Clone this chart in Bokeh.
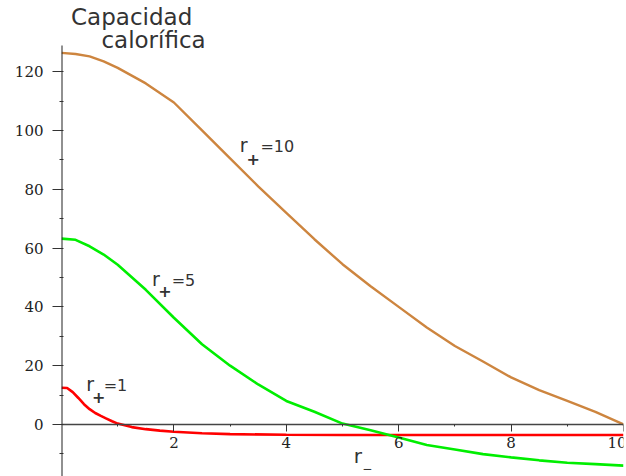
from bokeh.plotting import figure
from bokeh.models import Label, FixedTicker, Range1d
from bokeh.embed import file_html
from bokeh.resources import INLINE

# r_minus sample points and heat capacity for three values of r_plus
r_minus = [0, 0.25, 0.5, 0.75, 1, 1.5, 2, 2.5, 3, 3.5, 4, 4.5, 5,
           5.5, 6, 6.5, 7, 7.5, 8, 8.5, 9, 9.5, 10]
c_rp10 = [126.4, 126.0, 125.2, 123.5, 121.3, 116.0, 109.5, 100.0, 90.5, 81.0,
          72.0, 63.0, 54.5, 47.0, 40.0, 33.0, 26.7, 21.4, 16.0, 11.7, 8.0, 4.3, 0.0]
c_rp5 = [63.2, 62.8, 60.6, 57.8, 54.3, 45.8, 36.3, 27.3, 20.0, 13.6,
         8.0, 4.3, 0.3, -2.0, -4.4, -7.0, -8.5, -10.1, -11.2, -12.2, -13.0, -13.5, -14.0]

r_minus_1 = [0, 0.1, 0.2, 0.3, 0.4, 0.5, 0.6, 0.7, 0.8, 0.9, 1.0, 1.25, 1.5,
             1.75, 2, 2.5, 3, 4, 5, 6, 7, 8, 9, 10]
c_rp1 = [12.5, 12.4, 11.0, 9.0, 6.9, 5.2, 3.9, 2.9, 2.0, 1.1, 0.3, -0.9, -1.6,
         -2.1, -2.5, -3.0, -3.3, -3.5, -3.6, -3.6, -3.6, -3.6, -3.6, -3.6]

x_major = [2, 4, 6, 8, 10]
x_minor = [1, 3, 5, 7, 9]
y_major = [0, 20, 40, 60, 80, 100, 120]
y_minor = [-10, 10, 30, 50, 70, 90, 110]

title_lines = ["Capacidad", "calorífica"]

# vertical extent of the drawn C axis, and of the whole view
c_axis_lo, c_axis_hi = -17.7, 128.9
view_top = 144.2

p = figure(width=626, height=476, output_backend="svg", toolbar_location=None,
           x_range=Range1d(0, 10), y_range=Range1d(c_axis_lo, view_top),
           min_border_left=61, min_border_right=3, min_border_top=0,
           min_border_bottom=0)
p.outline_line_color = None
p.grid.visible = False
p.background_fill_color = "white"
p.border_fill_color = "white"

# curves
p.line(r_minus_1, c_rp1, line_color="#ff0000", line_width=2.6)
p.line(r_minus, c_rp5, line_color="#00ee00", line_width=2.6)
p.line(r_minus, c_rp10, line_color="#cd853f", line_width=2.4)

# horizontal axis crossing at zero
xa = p.xaxis[0]
xa.fixed_location = 0
xa.ticker = FixedTicker(ticks=x_major, minor_ticks=x_minor)
xa.axis_line_color = "#444444"
xa.axis_line_width = 1.5
xa.major_tick_out = 7
xa.major_tick_in = 0
xa.minor_tick_out = 2
xa.minor_tick_in = 0
xa.major_tick_line_color = "#333333"
xa.minor_tick_line_color = "#333333"
xa.major_label_standoff = 6
xa.major_label_text_font = "DejaVu Serif"
xa.major_label_text_font_size = "15px"
xa.major_label_text_color = "#222222"

# vertical axis: ticks from the axis model, its line only over the data span
ya = p.yaxis[0]
ya.ticker = FixedTicker(ticks=y_major, minor_ticks=y_minor)
ya.axis_line_color = None
ya.major_tick_out = 9
ya.major_tick_in = 2
ya.minor_tick_out = 2
ya.minor_tick_in = 2
ya.major_tick_line_color = "#333333"
ya.minor_tick_line_color = "#333333"
ya.major_label_standoff = 9
ya.major_label_text_font = "DejaVu Serif"
ya.major_label_text_font_size = "15px"
ya.major_label_text_color = "#222222"
p.segment(x0=[0], y0=[c_axis_lo], x1=[0], y1=[c_axis_hi],
          line_color="#222222", line_width=2)

TXT = "#333333"
FONT = "DejaVu Sans"

# title in two lines
p.add_layout(Label(x=0.17, y=134.0, text=title_lines[0], text_font=FONT,
                   text_font_size="23px", text_color=TXT))
p.add_layout(Label(x=0.71, y=126.2, text=title_lines[1], text_font=FONT,
                   text_font_size="23px", text_color=TXT))


def rplus_label(xr, yb, xp, yp, xe, tail):
    p.add_layout(Label(x=xr, y=yb, text="r", text_font=FONT,
                       text_font_size="19px", text_color=TXT))
    p.add_layout(Label(x=xp, y=yp, text="+", text_font=FONT,
                       text_font_size="16px", text_font_style="bold",
                       text_color=TXT, text_align="center",
                       text_baseline="middle"))
    p.add_layout(Label(x=xe, y=yb, text=tail, text_font=FONT,
                       text_font_size="16px", text_color=TXT))


rplus_label(3.17, 91.2, 3.41, 90.3, 3.54, "=10")
rplus_label(1.61, 45.9, 1.84, 45.4, 1.96, "=5")
rplus_label(0.44, 9.9, 0.66, 9.5, 0.75, "=1")

# horizontal axis name: r with subscript minus
p.add_layout(Label(x=5.20, y=-14.8, text="r", text_font=FONT,
                   text_font_size="20px", text_color=TXT))
p.add_layout(Label(x=5.44, y=-15.1, text="\u2212", text_font=FONT,
                   text_font_size="12px", text_color=TXT,
                   text_align="center", text_baseline="middle"))

open("out.html", "w").write(file_html(p, INLINE))
